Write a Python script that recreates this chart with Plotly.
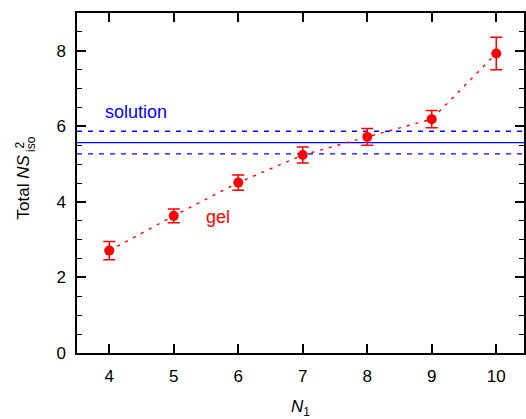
import plotly.graph_objects as go

n1 = [4, 5, 6, 7, 8, 9, 10]
gel_vals = [2.71, 3.63, 4.51, 5.24, 5.72, 6.19, 7.93]
gel_err = [0.24, 0.18, 0.20, 0.21, 0.22, 0.23, 0.43]
solution_val = 5.57
solution_err = 0.30
x_range = [3.5, 10.43]
y_range = [0, 9]

RED = "#ff0000"
BLUE = "#0000ff"
FONT = "Liberation Sans, Arial, sans-serif"
FS = 17

L, R, T, B = 77, 0, 13, 66
W, H = 526, 419
PH = H - T - B


def py(pix):
    """pixel row -> paper y"""
    return (H - B - pix) / PH


fig = go.Figure()

for y, dash in [(solution_val, "solid"), (solution_val + solution_err, "5px,6px"),
                (solution_val - solution_err, "5px,6px")]:
    fig.add_trace(go.Scatter(x=x_range, y=[y, y], mode="lines",
                             line=dict(color=BLUE, width=1.4, dash=dash),
                             hoverinfo="skip", showlegend=False))

fig.add_trace(go.Scatter(
    x=n1, y=gel_vals, mode="lines+markers",
    line=dict(color=RED, width=1.4, dash="3px,6px"),
    marker=dict(color=RED, size=10),
    error_y=dict(type="data", array=gel_err, color=RED, thickness=1.5, width=6),
    showlegend=False))

fig.add_annotation(x=4.42, y=6.38, text="solution", showarrow=False,
                   font=dict(color=BLUE, size=18, family=FONT))
fig.add_annotation(x=5.68, y=3.6, text="gel", showarrow=False,
                   font=dict(color=RED, size=18, family=FONT))

# y-axis title built from annotations (stacked super/subscript)
fig.add_annotation(xref="paper", yref="paper", x=0, xshift=23 - L, y=py(153),
                   xanchor="center", yanchor="top", textangle=-90,
                   text="Total <i>NS</i>", showarrow=False,
                   font=dict(size=FS, family=FONT, color="black"))
fig.add_annotation(xref="paper", yref="paper", x=0, xshift=31 - L, y=py(154),
                   xanchor="center", yanchor="bottom", textangle=-90,
                   text="iso", showarrow=False,
                   font=dict(size=12, family=FONT, color="black"))
fig.add_annotation(xref="paper", yref="paper", x=0, xshift=19 - L, y=py(151),
                   xanchor="center", yanchor="bottom", textangle=-90,
                   text="2", showarrow=False,
                   font=dict(size=12, family=FONT, color="black"))

axis_common = dict(showline=True, linecolor="black", linewidth=1.5, mirror="ticks",
                   ticks="inside", ticklen=9, tickwidth=1.5, tickcolor="black",
                   showgrid=False, zeroline=False,
                   tickfont=dict(size=FS, color="black", family=FONT))

fig.update_xaxes(range=x_range, tickvals=n1, ticktext=[str(v) for v in n1],
                 ticklabelstandoff=7,
                 title=dict(text="<i>N</i><sub>1</sub>", font=dict(size=FS, family=FONT, color="black"),
                            standoff=16),
                 **axis_common)
fig.update_yaxes(range=y_range, dtick=2, tick0=0, ticklabelstandoff=6,
                 minor=dict(dtick=0.5, ticks="inside", ticklen=5, tickwidth=1.2, tickcolor="black"),
                 **axis_common)

fig.update_layout(width=W, height=H, margin=dict(l=L, r=R, t=T, b=B),
                  plot_bgcolor="white", paper_bgcolor="white",
                  font=dict(family=FONT, size=FS, color="black"))

fig.write_html("out.html")
